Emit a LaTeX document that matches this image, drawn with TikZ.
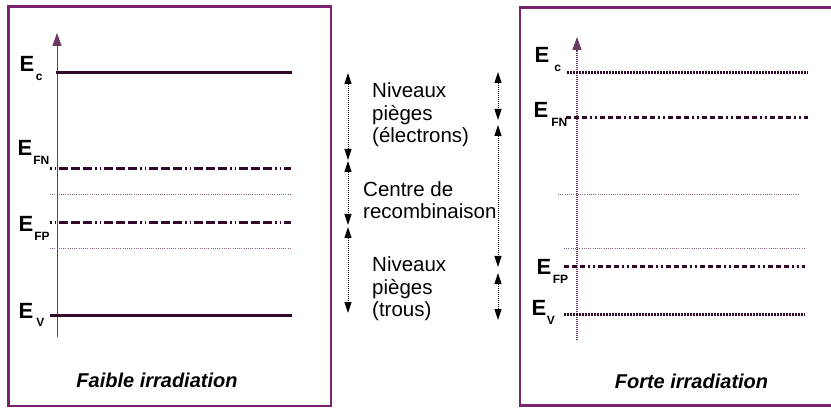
\documentclass[tikz,border=0pt]{standalone}
\usepackage{fontspec}
\setmainfont{Liberation Sans}
\usetikzlibrary{arrows.meta}
\definecolor{boxc}{HTML}{7A216F}
\definecolor{lvl}{HTML}{33092B}
\definecolor{thinc}{HTML}{8C6084}
\definecolor{axisc}{HTML}{6B3A62}
\newcommand{\Elab}[2]{E\kern#2pt\raisebox{-9pt}{\fontsize{12}{14}\selectfont #1}}
\begin{document}
\begin{tikzpicture}[x=1pt,y=-1pt,
  frame/.style={draw=boxc,line width=2.5pt},
  band/.style={draw=lvl,line width=3pt},
  quasi/.style={draw=lvl,line width=3pt,dash pattern=on 9pt off 3pt on 9pt off 3pt on 9pt off 3pt on 1.5pt off 3pt on 1.5pt off 3pt,dash phase=36pt},
  fband/.style={draw=lvl,line width=3pt,dash pattern=on 2pt off 1pt},
  fquasi/.style={draw=lvl,line width=3pt,dash pattern=on 5pt off 3pt on 5pt off 3pt on 5pt off 3pt on 2pt off 3pt on 2pt off 3pt},
  trap/.style={draw=thinc,line width=0.9pt,dash pattern=on 1pt off 1.2pt},
  elab/.style={anchor=base west,inner sep=0pt,font=\fontsize{22}{26}\selectfont\bfseries},
  note/.style={anchor=base west,inner sep=0pt,font=\fontsize{20.5}{24}\selectfont},
  ttl/.style={anchor=base,inner sep=0pt,font=\fontsize{20}{24}\selectfont\bfseries\itshape},
  span/.style={draw=black,line width=0.8pt,dash pattern=on 1pt off 1pt,{Triangle[length=11pt,width=7pt]}-{Triangle[length=11pt,width=7pt]}},
  axisl/.style={draw=axisc,line width=1pt,-{Triangle[length=13pt,width=9pt]}},
  axisr/.style={draw=axisc,line width=1.2pt,dash pattern=on 1pt off 1pt,-{Triangle[length=13pt,width=9pt]}}
]
\useasboundingbox (0,0) rectangle (831,409);

% frames
\draw[frame] (8.5,6.5) rectangle (331,406);
\draw[frame] (840,7.5) -- (520,7.5) -- (520,405.5) -- (840,405.5);

% ---- left panel ----
\coordinate (la0) at (57,337); \coordinate (la1) at (57,33);
\draw[axisl] (la0) -- (la1);
\coordinate (lc0) at (56,73);  \coordinate (lc1) at (292,73);
\coordinate (ln0) at (50,169); \coordinate (ln1) at (291,169);
\coordinate (lt0) at (50,194); \coordinate (lt1) at (291,194);
\coordinate (lp0) at (50,223); \coordinate (lp1) at (291,223);
\coordinate (ls0) at (50,248); \coordinate (ls1) at (291,248);
\coordinate (lv0) at (50,315); \coordinate (lv1) at (292,315);
\draw[band] (lc0) -- (lc1);
\draw[quasi] (ln0) -- (ln1);
\draw[trap] (lt0) -- (lt1);
\draw[quasi] (lp0) -- (lp1);
\draw[trap] (ls0) -- (ls1);
\draw[band] (lv0) -- (lv1);
\node[elab] (lEc) at (19.5,72) {\Elab{c}{1.5}};
\node[elab] (lEfn) at (17.5,156) {\Elab{FN}{1}};
\node[elab] (lEfp) at (18.5,232) {\Elab{FP}{1}};
\node[elab] (lEv) at (18.5,318) {\Elab{V}{3}};
\node[ttl] (lttl) at (157,387) {Faible irradiation};

% ---- middle ----
\coordinate (m1) at (348,73);  \coordinate (m2) at (348,160);
\coordinate (m3) at (348,161); \coordinate (m4) at (348,225);
\coordinate (m5) at (348,227); \coordinate (m6) at (348,313);
\draw[span] (m1) -- (m2);
\draw[span] (m3) -- (m4);
\draw[span] (m5) -- (m6);
\coordinate (r1) at (498,72);  \coordinate (r2) at (498,120);
\coordinate (r3) at (498,125); \coordinate (r4) at (498,267);
\coordinate (r5) at (498,273); \coordinate (r6) at (498,320);
\draw[span] (r1) -- (r2);
\draw[span] (r3) -- (r4);
\draw[span] (r5) -- (r6);
\node[note] (t1) at (372,98) {Niveaux};
\node[note] (t2) at (372,120.5) {pièges};
\node[note] (t3) at (372,143) {(électrons)};
\node[note] (t4) at (363,197) {Centre de};
\node[note] (t5) at (363,218.5) {recombinaison};
\node[note] (t6) at (372,272) {Niveaux};
\node[note] (t7) at (372,294.5) {pièges};
\node[note] (t8) at (372,316.5) {(trous)};

% ---- right panel ----
\coordinate (ra0) at (577,340); \coordinate (ra1) at (577,37);
\draw[axisr] (ra0) -- (ra1);
\coordinate (rc0) at (567,73);  \coordinate (rc1) at (808,73);
\coordinate (rn0) at (566,118); \coordinate (rn1) at (808,118);
\coordinate (rt0) at (558,194); \coordinate (rt1) at (798,194);
\coordinate (rs0) at (564,248); \coordinate (rs1) at (805,248);
\coordinate (rp0) at (564,267); \coordinate (rp1) at (805,267);
\coordinate (rv0) at (564,314); \coordinate (rv1) at (805,314);
\draw[fband] (rc0) -- (rc1);
\draw[fquasi] (rn0) -- (rn1);
\draw[trap] (rt0) -- (rt1);
\draw[trap] (rs0) -- (rs1);
\draw[fquasi] (rp0) -- (rp1);
\draw[fband] (rv0) -- (rv1);
\node[elab] (rEc) at (534.5,63) {\Elab{c}{5}};
\node[elab] (rEfn) at (533.5,118) {\Elab{FN}{3}};
\node[elab] (rEfp) at (536.5,275) {\Elab{FP}{1.5}};
\node[elab] (rEv) at (531.5,316) {\Elab{V}{0.5}};
\node[ttl] (rttl) at (691.5,388) {Forte irradiation};
\end{tikzpicture}
\end{document}
